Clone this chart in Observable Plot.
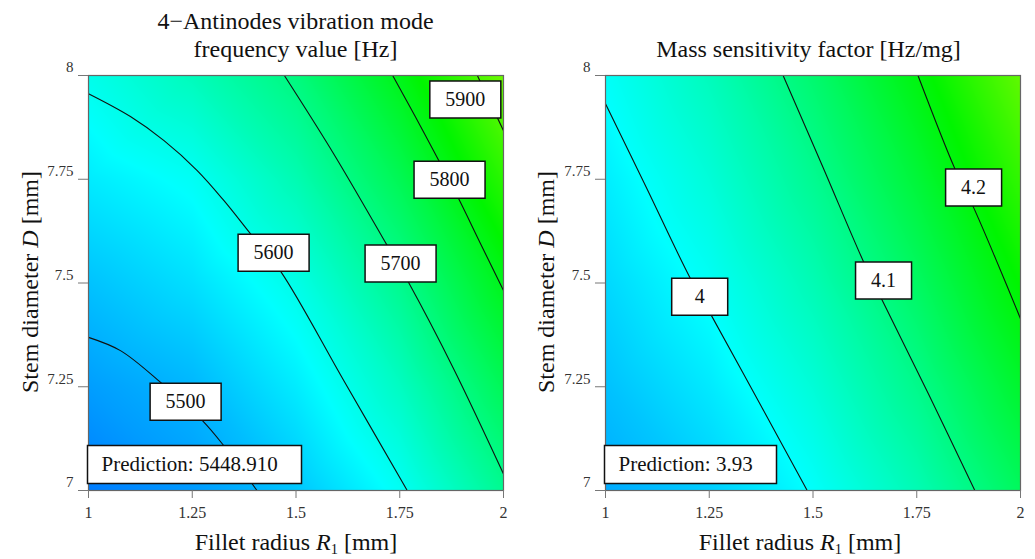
<!DOCTYPE html>
<html><head><meta charset="utf-8">
<script src="https://cdn.jsdelivr.net/npm/d3@7"></script>
<script src="https://cdn.jsdelivr.net/npm/@observablehq/plot@0.6"></script>
<style>
body{margin:0;background:#fff;font-family:"Liberation Serif","Times New Roman",serif;color:#111;}
#wrap{position:relative;width:1035px;height:559px;overflow:hidden;background:#fff;}
.chart{position:absolute;top:0;font-family:"Liberation Serif","Times New Roman",serif !important;}
.chart text{font-family:"Liberation Serif","Times New Roman",serif;}
.title{position:absolute;font-size:24px;text-align:center;line-height:28px;white-space:nowrap;}
.xlab{position:absolute;font-size:24px;line-height:28px;white-space:nowrap;transform:translateX(-50%);}
.ylab{position:absolute;font-size:24px;line-height:28px;white-space:nowrap;transform:translate(-50%,-50%) rotate(-90deg);}
sub{font-size:0.6em;vertical-align:-0.3em;line-height:0;}
</style></head><body><div id="wrap"></div>
<script>
// ---- data ----
const R_grid = [1, 1.25, 1.5, 1.75, 2];          // Fillet radius R1 [mm]
const D_grid = [7, 7.25, 7.5, 7.75, 8];          // Stem diameter D [mm]
const xTicks = [1, 1.25, 1.5, 1.75, 2];
const yTicks = [7, 7.25, 7.5, 7.75, 8];

// 4-antinodes frequency [Hz], rows = D_grid, cols = R_grid
const freqGrid = [
  [5449, 5480, 5526, 5594, 5691],
  [5484, 5510, 5566, 5643, 5747],
  [5522, 5553, 5607, 5693, 5805],
  [5565, 5593, 5658, 5749, 5870],
  [5604, 5650, 5709, 5807, 5935]
];
// mass sensitivity [Hz/mg]
const massGrid = [
  [3.930, 3.959, 4.003, 4.061, 4.134],
  [3.949, 3.983, 4.032, 4.095, 4.173],
  [3.968, 4.007, 4.061, 4.129, 4.212],
  [3.986, 4.031, 4.090, 4.163, 4.251],
  [4.005, 4.055, 4.119, 4.197, 4.290]
];

// contour lines [R, D]
const freq5500 = [[1,7.369],[1.077,7.337],[1.173,7.261],[1.274,7.169],[1.326,7.108],[1.406,7]];
const freq5600 = [[1,7.956],[1.101,7.901],[1.182,7.843],[1.262,7.771],[1.326,7.699],[1.390,7.619],[1.463,7.528],[1.615,7.265],[1.768,7]];
const freq5700 = [[1.472,8],[1.591,7.811],[1.720,7.590],[1.772,7.500],[1.880,7.293],[2,7.040]];
const freq5800 = [[1.733,8],[1.788,7.900],[1.844,7.795],[1.892,7.703],[1.945,7.594],[2,7.482]];
const freq5900 = [[1.937,8],[2,7.867]];
const mass400 = [[1,7.932],[1.099,7.729],[1.203,7.514],[1.255,7.422],[1.372,7.209],[1.486,7]];
const mass410 = [[1.428,8],[1.524,7.779],[1.621,7.553],[1.665,7.462],[1.778,7.233],[1.890,7]];
const mass420 = [[1.753,8],[1.842,7.775],[1.886,7.684],[1.942,7.554],[2,7.414]];

// contour label positions
const freqLabelText = ["5900", "5800", "5700", "5600", "5500"];
const freqLabelR = [1.908, 1.870, 1.752, 1.446, 1.234];
const freqLabelD = [7.942, 7.749, 7.547, 7.573, 7.214];
const massLabelText = ["4.2", "4.1", "4"];
const massLabelR = [1.887, 1.670, 1.227];
const massLabelD = [7.730, 7.506, 7.467];

const freqPrediction = "Prediction: 5448.910";
const massPrediction = "Prediction: 3.93";

// ---- drawing ----
const wrap = document.getElementById("wrap");
const fmt = d => String(d);
const serif = "'Liberation Serif', 'Times New Roman', serif";

function chart({grid, colorDomain, contours, labelText, labelR, labelD, labelW, pred, predW, width, marginRight}) {
  const table = [];
  D_grid.forEach((D, i) => R_grid.forEach((R, j) => table.push({R, D, v: grid[i][j]})));
  const lines = [];
  contours.forEach(([level, pts]) => pts.forEach(([R, D]) => lines.push({level, R, D})));
  const labels = labelText.map((t, i) => ({t, R: labelR[i], D: labelD[i]}));
  const boxSym = {draw(ctx) { ctx.rect(-labelW / 2, -18.5, labelW, 37); }};
  const predSym = {draw(ctx) { ctx.rect(-1, -45, predW, 38); }};
  return Plot.plot({
    width, height: 559,
    marginLeft: 88, marginRight, marginTop: 75, marginBottom: 69,
    style: {fontFamily: serif, background: "transparent", color: "#222"},
    x: {domain: [1, 2]},
    y: {domain: [7, 8]},
    color: {type: "linear", domain: colorDomain, range: ["#0000ff", "#00ffff", "#00f500", "#ffff00"], interpolate: "rgb", clamp: true},
    marks: [
      Plot.raster(table, {x: "R", y: "D", fill: "v", interpolate: "barycentric", pixelSize: 1}),
      Plot.line(lines, {x: "R", y: "D", z: "level", curve: "catmull-rom", stroke: "#111", strokeWidth: 1.1, clip: true}),
      Plot.frame({stroke: "#666", strokeWidth: 1.2}),
      Plot.axisX({ticks: xTicks, tickFormat: fmt, tickSize: 8, tickPadding: 8, fontSize: 16, fontFamily: serif, label: null, stroke: "#777", fill: "#333"}),
      Plot.axisY({ticks: yTicks, tickFormat: () => "", tickSize: 10, label: null, stroke: "#777"}),
      Plot.axisY({ticks: yTicks, tickFormat: fmt, tickSize: 0, tickPadding: 15, fontSize: 15, fontFamily: serif, dy: -8, label: null, fill: "#333"}),
      Plot.dot(labels, {x: "R", y: "D", symbol: boxSym, r: 10, fill: "white", stroke: "#111", strokeWidth: 1.5}),
      Plot.text(labels, {x: "R", y: "D", text: "t", fontSize: 20, fontFamily: serif, fill: "#111"}),
      Plot.dot([{R: 1, D: 7}], {x: "R", y: "D", symbol: predSym, r: 10, fill: "white", stroke: "#111", strokeWidth: 1.5}),
      Plot.text([{R: 1, D: 7, t: pred}], {x: "R", y: "D", text: "t", dx: 13, dy: -26, textAnchor: "start", fontSize: 21, fontFamily: serif, fill: "#111"})
    ]
  });
}

const left = chart({
  grid: freqGrid, colorDomain: [5320, 5585, 5830, 6075],
  contours: [[5500, freq5500], [5600, freq5600], [5700, freq5700], [5800, freq5800], [5900, freq5900]],
  labelText: freqLabelText, labelR: freqLabelR, labelD: freqLabelD, labelW: 71,
  pred: freqPrediction, predW: 214, width: 517, marginRight: 14
});
left.classList.add("chart"); left.style.left = "0px";
wrap.appendChild(left);

const right = chart({
  grid: massGrid, colorDomain: [3.79, 4.0, 4.21, 4.42],
  contours: [[4.0, mass400], [4.1, mass410], [4.2, mass420]],
  labelText: massLabelText, labelR: massLabelR, labelD: massLabelD, labelW: 56,
  pred: massPrediction, predW: 172, width: 518, marginRight: 15
});
right.classList.add("chart"); right.style.left = "517px";
wrap.appendChild(right);

function addDiv(cls, html, css) {
  const d = document.createElement("div");
  d.className = cls; d.innerHTML = html;
  Object.assign(d.style, css);
  wrap.appendChild(d);
}
addDiv("title", "4&minus;Antinodes vibration mode<br>frequency value [Hz]", {left: "88px", width: "415px", top: "7px"});
addDiv("title", "Mass sensitivity factor [Hz/mg]", {left: "601px", width: "415px", top: "35px"});
addDiv("xlab", "Fillet radius <i>R</i><sub>1</sub> [mm]", {left: "296px", top: "528px"});
addDiv("xlab", "Fillet radius <i>R</i><sub>1</sub> [mm]", {left: "800px", top: "528px"});
addDiv("ylab", "Stem diameter <i>D</i> [mm]", {left: "30px", top: "282px"});
addDiv("ylab", "Stem diameter <i>D</i> [mm]", {left: "546px", top: "282px"});
</script></body></html>
